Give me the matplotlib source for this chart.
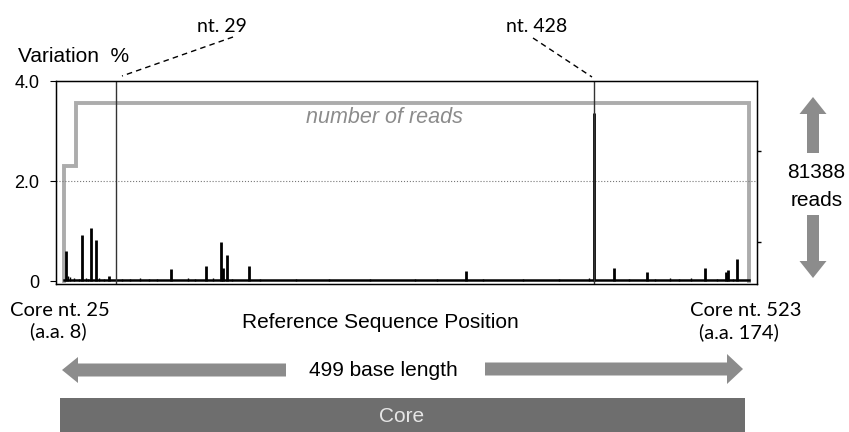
import matplotlib
matplotlib.use("Agg")
import matplotlib.pyplot as plt
from matplotlib.patches import FancyArrow, Rectangle

# position index along the plotted reference window
spike_pos = [8.3, 22, 29.2, 33.1, 44.2, 95.7, 125, 138, 139.2, 142.5, 161.4,
             342, 449, 466, 493.3, 541.7, 559.3, 560.7, 568.5]
spike_val = [0.60, 0.92, 1.06, 0.82, 0.10, 0.24, 0.30, 0.78, 0.27, 0.52, 0.30,
             0.20, 3.36, 0.27, 0.19, 0.26, 0.19, 0.22, 0.45]

noise_pos = [10, 12, 15, 19, 25, 27, 36, 40, 55, 62, 70, 78, 84, 110, 116, 131,
             147, 170, 200, 228, 262, 300, 318, 356, 390, 420, 445, 478, 500,
             512, 520, 530, 552, 565]
noise_val = [0.10, 0.08, 0.06, 0.05, 0.07, 0.05, 0.06, 0.04, 0.05, 0.04, 0.06,
             0.04, 0.05, 0.06, 0.05, 0.06, 0.05, 0.04, 0.04, 0.05, 0.04, 0.05,
             0.04, 0.04, 0.05, 0.04, 0.06, 0.05, 0.04, 0.06, 0.05, 0.06, 0.05,
             0.04]

reads_pos = [6.7, 6.7, 16.7, 16.7, 578.7, 578.7]
reads_val = [0, 52700, 52700, 81388, 81388, 0]

marks = [50, 449]
mark_labels = ["nt. 29", "nt. 428"]

narrow = ["Lato", "DejaVu Sans"]
sans = ["Liberation Sans", "DejaVu Sans"]
grey = "#8c8c8c"

fig = plt.figure(figsize=(8.49, 4.32), dpi=100)
ax = fig.add_axes([56 / 849, 1 - 284 / 432, 701 / 849, 203 / 432])
ax.set_xlim(0, 585)
ax.set_ylim(-0.06, 4.0)
ax.set_xticks([])
ax.set_yticks([0, 2, 4])
ax.set_yticklabels(["0", "2.0", "4.0"], family=sans, fontsize=13)
ax.tick_params(axis="y", length=4, pad=8, width=0.8)
ax.axhline(2.0, color="#777777", lw=0.8, ls=":")
for s in ax.spines.values():
    s.set_linewidth(1.0)

ax2 = ax.twinx()
ax2.set_ylim(-1372, 91447)
ax2.set_yticks([18000, 59600])
ax2.set_yticklabels([])
ax2.tick_params(axis="y", length=3, width=1)
ax2.plot(reads_pos, reads_val, color="#acacac", lw=2.8, solid_joinstyle="miter")

ax.plot([reads_pos[0], reads_pos[-1]], [0.015, 0.015], color="black", lw=1.8)
ax.vlines(noise_pos, 0, noise_val, color="black", lw=1)
ax.vlines(spike_pos, 0, spike_val, color="black", lw=2)
for m in marks:
    ax.axvline(m, color="#333333", lw=1)
ax.set_zorder(ax2.get_zorder() + 1)
ax.patch.set_visible(False)

ax.text(0.469, 0.818, "number of reads", transform=ax.transAxes, ha="center",
        va="center", style="italic", color=grey, family=sans, fontsize=15.5)

# pixel overlay for annotations and decorations
ov = fig.add_axes([0, 0, 1, 1], zorder=-1)
ov.set_xlim(0, 849)
ov.set_ylim(432, 0)
ov.set_axis_off()

ov.text(18, 56, "Variation  %", ha="left", va="center", family=sans, fontsize=15)
ov.text(222, 27, mark_labels[0], ha="center", va="center", family=narrow, fontsize=14)
ov.plot([233, 122], [37, 76], color="black", lw=1, ls=(0, (4, 3)))
ov.text(537, 27, mark_labels[1], ha="center", va="center", family=narrow, fontsize=14)
ov.plot([533, 592], [38, 77], color="black", lw=1, ls=(0, (4, 3)))

ov.add_patch(FancyArrow(813, 153, 0, -56, width=12, head_width=27, head_length=17,
                        length_includes_head=True, color=grey, lw=0))
ov.add_patch(FancyArrow(813, 215, 0, 63, width=12, head_width=27, head_length=17,
                        length_includes_head=True, color=grey, lw=0))
ov.text(816, 173, "81388", ha="center", va="center", family=sans, fontsize=15)
ov.text(817, 200, "reads", ha="center", va="center", family=sans, fontsize=15)

ov.text(60, 310, "Core nt. 25", ha="center", va="center", family=narrow, fontsize=14.5)
ov.text(58, 331, "(a.a. 8)", ha="center", va="center", family=narrow, fontsize=14.5)
ov.text(746, 310, "Core nt. 523", ha="center", va="center", family=narrow, fontsize=14.5)
ov.text(739, 332, "(a.a. 174)", ha="center", va="center", family=narrow, fontsize=14.5)
ov.text(380, 323, "Reference Sequence Position", ha="center", va="center",
        family=sans, fontsize=15)

ov.add_patch(FancyArrow(286, 370, -224, 0, width=13, head_width=26, head_length=16,
                        length_includes_head=True, color=grey, lw=0))
ov.add_patch(FancyArrow(485, 369, 258, 0, width=13, head_width=30, head_length=16,
                        length_includes_head=True, color=grey, lw=0))
ov.text(383, 370, "499 base length", ha="center", va="center", family=sans, fontsize=15)

ov.add_patch(Rectangle((60, 398), 685, 40, color="#6e6e6e", lw=0))
ov.text(402, 416, "Core", ha="center", va="center", color="#e6e6e6",
        family=sans, fontsize=15)

fig.savefig("out.png", dpi=100)
